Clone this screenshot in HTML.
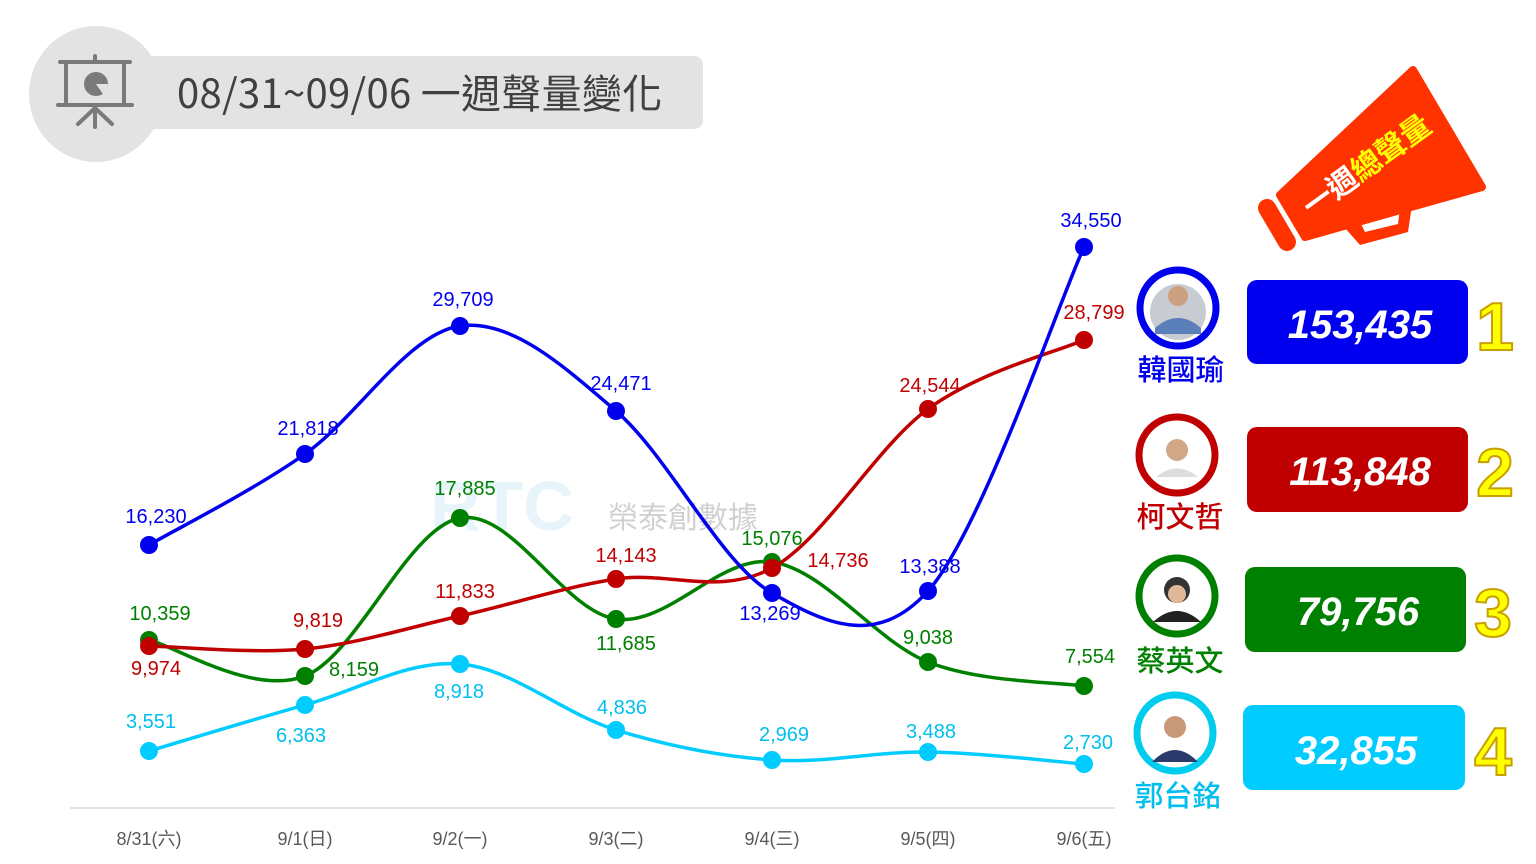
<!DOCTYPE html>
<html><head><meta charset="utf-8">
<style>
html,body{margin:0;padding:0;background:#fff;}
svg{display:block;}
text{font-family:"Liberation Sans","Noto Sans CJK TC",sans-serif;}
.cjk{font-family:"Noto Sans CJK TC","Liberation Sans",sans-serif;}
</style></head>
<body>
<svg id="s" width="1536" height="864" viewBox="0 0 1536 864" xmlns="http://www.w3.org/2000/svg">
<rect x="95" y="56" width="608" height="73" rx="9" fill="#e3e3e3"/>
<ellipse cx="96" cy="94" rx="67" ry="68" fill="#e3e3e3"/>
<g stroke="#7a7a7a" stroke-width="4" fill="none" stroke-linecap="round">
<line x1="60" y1="62" x2="130" y2="62"/>
<rect x="66" y="62" width="58" height="43"/>
<line x1="58" y1="105" x2="132" y2="105"/>
<line x1="95" y1="105" x2="95" y2="127"/>
<line x1="95" y1="108" x2="78" y2="124"/>
<line x1="95" y1="108" x2="112" y2="124"/>
<line x1="95" y1="56" x2="95" y2="62"/>
</g>
<circle cx="96" cy="84" r="12" fill="#7a7a7a"/>
<path d="M96 84 L108 84 A12 12 0 0 1 103 94 Z" fill="#e3e3e3"/>
<text x="177" y="108" font-size="40" fill="#404040" class="cjk" letter-spacing="0.3">08/31~09/06 一週聲量變化</text>

<text x="430" y="530" font-size="70" fill="#d8eef8" opacity="0.6" font-weight="bold">RTC</text>
<text x="608" y="528" font-size="30" fill="#d0d0d0" class="cjk">榮泰創數據</text>

<line x1="70" y1="808" x2="1115" y2="808" stroke="#d9d9d9" stroke-width="1.5"/>
<g font-size="18" fill="#595959" text-anchor="middle" class="cjk">
<text x="149" y="845">8/31(六)</text><text x="305" y="845">9/1(日)</text><text x="460" y="845">9/2(一)</text>
<text x="616" y="845">9/3(二)</text><text x="772" y="845">9/4(三)</text><text x="928" y="845">9/5(四)</text><text x="1084" y="845">9/6(五)</text>
</g>
<g id="lines"></g>

<g font-size="20" text-anchor="middle">
<g fill="#0000ee">
<text x="156" y="523">16,230</text><text x="308" y="435">21,818</text><text x="463" y="306">29,709</text>
<text x="621" y="390">24,471</text><text x="770" y="620">13,269</text><text x="930" y="573">13,388</text><text x="1091" y="227">34,550</text>
</g>
<g fill="#c00000">
<text x="156" y="675">9,974</text><text x="318" y="627">9,819</text><text x="465" y="598">11,833</text>
<text x="626" y="562">14,143</text><text x="838" y="567">14,736</text><text x="930" y="392">24,544</text><text x="1094" y="319">28,799</text>
</g>
<g fill="#008000">
<text x="160" y="620">10,359</text><text x="354" y="676">8,159</text><text x="465" y="495">17,885</text>
<text x="626" y="650">11,685</text><text x="772" y="545">15,076</text><text x="928" y="644">9,038</text><text x="1090" y="663">7,554</text>
</g>
<g fill="#00bfef">
<text x="151" y="728">3,551</text><text x="301" y="742">6,363</text><text x="459" y="698">8,918</text>
<text x="622" y="714">4,836</text><text x="784" y="741">2,969</text><text x="931" y="738">3,488</text><text x="1088" y="749">2,730</text>
</g>
</g>

<g fill="#ff3300">
<polygon points="1280,195 1413,70 1482,187 1305,237" stroke="#ff3300" stroke-width="8" stroke-linejoin="round"/>
<line x1="1267" y1="208" x2="1287" y2="242" stroke="#ff3300" stroke-width="18" stroke-linecap="round"/>
<polygon points="1345,228 1360,245 1408,232 1412,205 1400,208 1398,224 1365,232 1360,222"/>
</g>
<text transform="translate(1312,218) rotate(-36)" font-size="30" class="cjk" font-weight="bold"><tspan fill="#fff">一週</tspan><tspan fill="#ffff00">總聲量</tspan></text>

<g class="cjk" font-size="29" font-weight="500" text-anchor="middle">
<circle cx="1178" cy="308" r="38" fill="#fff" stroke="#0000ee" stroke-width="7"/>
<circle cx="1178" cy="312" r="28" fill="#c8cbd2"/><circle cx="1178" cy="296" r="10" fill="#c9a080"/><path d="M1155 328 Q1178 308 1201 328 L1201 334 L1155 334Z" fill="#5b7fb8"/>
<text x="1181" y="380" fill="#0000ee">韓國瑜</text>
<circle cx="1177" cy="455" r="38" fill="#fff" stroke="#c00000" stroke-width="7"/>
<circle cx="1177" cy="450" r="11" fill="#d0a888"/><path d="M1156 477 Q1177 460 1198 477Z" fill="#ddd"/>
<text x="1180" y="527" fill="#c00000">柯文哲</text>
<circle cx="1177" cy="596" r="38" fill="#fff" stroke="#008000" stroke-width="7"/>
<circle cx="1177" cy="590" r="13" fill="#333"/><circle cx="1177" cy="594" r="9" fill="#e0b898"/><path d="M1153 622 Q1177 600 1201 622Z" fill="#222"/>
<text x="1180" y="671" fill="#008000">蔡英文</text>
<circle cx="1175" cy="733" r="38" fill="#fff" stroke="#00ccee" stroke-width="7"/>
<circle cx="1175" cy="727" r="11" fill="#c89878"/><path d="M1152 762 Q1175 738 1198 762Z" fill="#2a3a6a"/>
<text x="1178" y="806" fill="#00bfef">郭台銘</text>
</g>
<g font-size="40" font-weight="bold" font-style="italic" fill="#fff" text-anchor="middle">
<rect x="1247" y="280" width="221" height="84" rx="10" fill="#0000ee"/><text x="1360" y="338">153,435</text>
<rect x="1247" y="427" width="221" height="85" rx="10" fill="#c00000"/><text x="1360" y="485">113,848</text>
<rect x="1245" y="567" width="221" height="85" rx="10" fill="#008000"/><text x="1358" y="625">79,756</text>
<rect x="1243" y="705" width="222" height="85" rx="10" fill="#00ccff"/><text x="1356" y="764">32,855</text>
</g>
<g font-size="68" font-weight="bold" fill="#ffff00" stroke="#c8a000" stroke-width="2" text-anchor="middle">
<text x="1495" y="350">1</text><text x="1495" y="496">2</text><text x="1493" y="636">3</text><text x="1493" y="775">4</text>
</g>
</svg>
<script>
var X=[149,305,460,616,772,928,1084];
var S=[["#0000ee",[545,454,326,411,593,591,247]],["#c00000",[646,649,616,579,568,409,340]],["#008000",[640,676,518,619,562,662,686]],["#00ccff",[751,705,664,730,760,752,764]]];
var order=[3,2,1,0];var g=document.getElementById("lines");var ns="http://www.w3.org/2000/svg";
order.forEach(function(i){var c=S[i][0],Y=S[i][1],d="M"+X[0]+" "+Y[0];
for(var k=0;k<6;k++){var p0=k?k-1:0,p3=k<5?k+2:6;
var c1x=X[k]+(X[k+1]-X[p0])/6,c1y=Y[k]+(Y[k+1]-Y[p0])/6,c2x=X[k+1]-(X[p3]-X[k])/6,c2y=Y[k+1]-(Y[p3]-Y[k])/6;
d+=" C"+c1x+" "+c1y+" "+c2x+" "+c2y+" "+X[k+1]+" "+Y[k+1];}
var p=document.createElementNS(ns,"path");p.setAttribute("d",d);p.setAttribute("fill","none");p.setAttribute("stroke",c);p.setAttribute("stroke-width","3.5");g.appendChild(p);
X.forEach(function(x,j){var e=document.createElementNS(ns,"circle");e.setAttribute("cx",x);e.setAttribute("cy",Y[j]);e.setAttribute("r","9");e.setAttribute("fill",c);g.appendChild(e);});});
</script>
</body></html>
